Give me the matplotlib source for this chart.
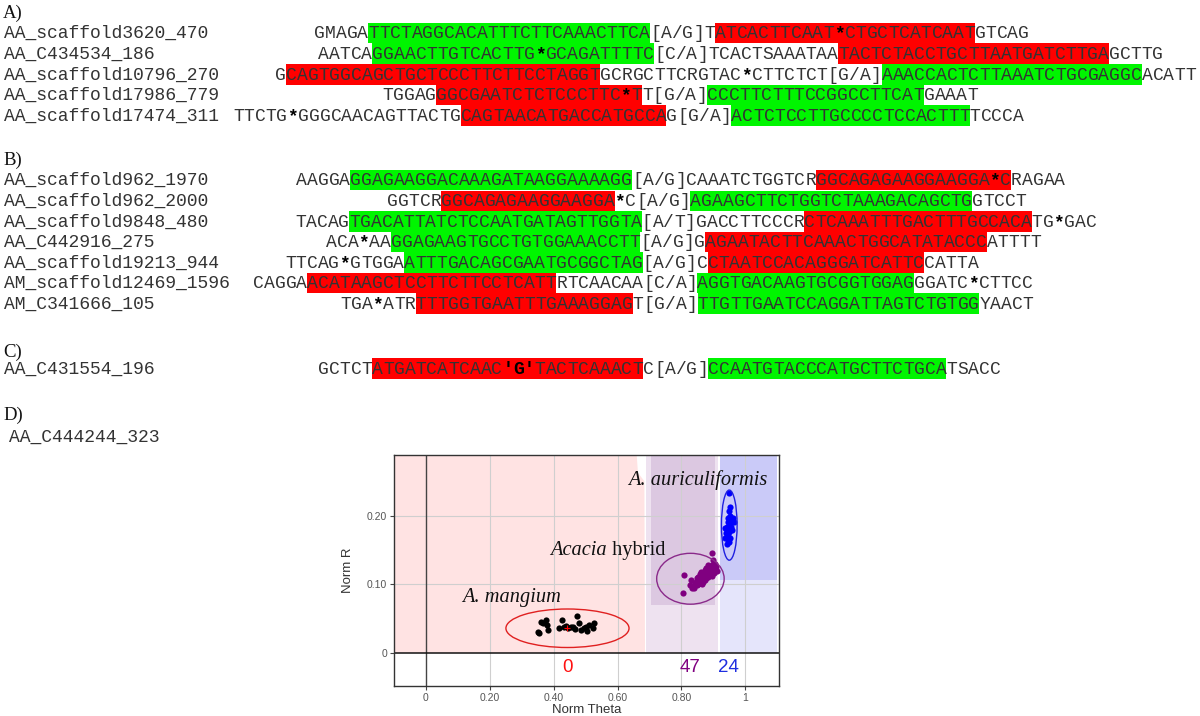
import matplotlib
matplotlib.use("Agg")
import matplotlib.pyplot as plt
from matplotlib.patches import Rectangle, Ellipse, Polygon

# ------------------------------------------------------------------ data
panel_labels = ["A)", "B)", "C)", "D)"]

names_A = ["AA_scaffold3620_470", "AA_C434534_186", "AA_scaffold10796_270",
           "AA_scaffold17986_779", "AA_scaffold17474_311"]
seqs_A = [
    [("GMAGA", "n"), ("TTCTAGGCACATTTCTTCAAACTTCA", "g"), ("[A/G]T", "n"),
     ("ATCACTTCAAT*CTGCTCATCAAT", "r"), ("GTCAG", "n")],
    [("AATCA", "n"), ("GGAACTTGTCACTTG*GCAGATTTTC", "g"), ("[C/A]TCACTSAAATAA", "n"),
     ("TACTCTACCTGCTTAATGATCTTGA", "r"), ("GCTTG", "n")],
    [("G", "n"), ("CAGTGGCAGCTGCTCCCTTCTTCCTAGGT", "r"), ("GCRGCTTCRGTAC*CTTCTCT[G/A]", "n"),
     ("AAACCACTCTTAAATCTGCGAGGC", "g"), ("ACATT", "n")],
    [("TGGAG", "n"), ("GGCGAATCTCTCCCTTC*T", "r"), ("T[G/A]", "n"),
     ("CCCTTCTTTCCGGCCTTCAT", "g"), ("GAAAT", "n")],
    [("TTCTG*GGGCAACAGTTACTG", "n"), ("CAGTAACATGACCATGCCA", "r"), ("G[G/A]", "n"),
     ("ACTCTCCTTGCCCCTCCACTTT", "g"), ("TCCCA", "n")],
]

names_B = ["AA_scaffold962_1970", "AA_scaffold962_2000", "AA_scaffold9848_480",
           "AA_C442916_275", "AA_scaffold19213_944", "AM_scaffold12469_1596",
           "AM_C341666_105"]
seqs_B = [
    [("AAGGA", "n"), ("GGAGAAGGACAAAGATAAGGAAAAGG", "g"), ("[A/G]CAAATCTGGTCR", "n"),
     ("GGCAGAGAAGGAAGGA*C", "r"), ("RAGAA", "n")],
    [("GGTCR", "n"), ("GGCAGAGAAGGAAGGA", "r"), ("*C[A/G]", "n"),
     ("AGAAGCTTCTGGTCTAAAGACAGCTG", "g"), ("GTCCT", "n")],
    [("TACAG", "n"), ("TGACATTATCTCCAATGATAGTTGGTA", "g"), ("[A/T]GACCTTCCCR", "n"),
     ("CTCAAATTTGACTTTGCCACA", "r"), ("TG*GAC", "n")],
    [("ACA*AA", "n"), ("GGAGAAGTGCCTGTGGAAACCTT", "g"), ("[A/G]G", "n"),
     ("AGAATACTTCAAACTGGCATATACCC", "r"), ("ATTTT", "n")],
    [("TTCAG*GTGGA", "n"), ("ATTTGACAGCGAATGCGGCTAG", "g"), ("[A/G]C", "n"),
     ("CTAATCCACAGGGATCATTC", "r"), ("CATTA", "n")],
    [("CAGGA", "n"), ("ACATAAGCTCCTTCTTCCTCATT", "r"), ("RTCAACAA[C/A]", "n"),
     ("AGGTGACAAGTGCGGTGGAG", "g"), ("GGATC*CTTCC", "n")],
    [("TGA*ATR", "n"), ("TTTGGTGAATTTGAAAGGAG", "r"), ("T[G/A]", "n"),
     ("TTGTTGAATCCAGGATTAGTCTGTGG", "g"), ("YAACT", "n")],
]

names_C = ["AA_C431554_196"]
seqs_C = [
    [("GCTCT", "n"), ("ATGATCATCAAC'G'TACTCAAACT", "r"), ("C[A/G]", "n"),
     ("CCAATGTACCCATGCTTCTGCA", "g"), ("TSACC", "n")],
]

name_D = "AA_C444244_323"

# genotyping cluster plot (Norm Theta, Norm R)
mangium_theta = [0.352, 0.362, 0.376, 0.378, 0.383, 0.356, 0.418, 0.425, 0.432, 0.446,
                 0.453, 0.461, 0.474, 0.480, 0.487, 0.495, 0.502, 0.511, 0.522, 0.526,
                 0.368, 0.440, 0.468, 0.505]
mangium_r = [0.031, 0.045, 0.048, 0.041, 0.034, 0.029, 0.036, 0.048, 0.038, 0.036,
             0.038, 0.038, 0.054, 0.043, 0.033, 0.036, 0.038, 0.041, 0.037, 0.043,
             0.043, 0.039, 0.035, 0.032]

hybrid_theta = [0.807, 0.804, 0.826, 0.833, 0.840, 0.831, 0.845, 0.852, 0.857, 0.862,
                0.868, 0.873, 0.878, 0.883, 0.889, 0.894, 0.894, 0.899, 0.904, 0.911,
                0.909, 0.889, 0.868, 0.852, 0.862, 0.883, 0.899, 0.847, 0.873, 0.857,
                0.878, 0.842, 0.906, 0.853, 0.866, 0.876, 0.886, 0.893, 0.880, 0.870,
                0.858, 0.849, 0.838, 0.896, 0.902, 0.864, 0.875]
hybrid_r = [0.113, 0.088, 0.099, 0.095, 0.095, 0.106, 0.104, 0.111, 0.102, 0.108,
            0.113, 0.106, 0.116, 0.111, 0.121, 0.128, 0.145, 0.135, 0.123, 0.120,
            0.125, 0.113, 0.104, 0.101, 0.118, 0.128, 0.118, 0.109, 0.121, 0.115,
            0.123, 0.102, 0.130, 0.106, 0.110, 0.109, 0.117, 0.121, 0.119, 0.116,
            0.109, 0.099, 0.098, 0.112, 0.117, 0.101, 0.113]

auric_theta = [0.949, 0.951, 0.948, 0.953, 0.961, 0.956, 0.946, 0.951, 0.943, 0.941,
               0.949, 0.939, 0.946, 0.935, 0.944, 0.949, 0.941, 0.956, 0.964, 0.936,
               0.953, 0.959, 0.944, 0.952]
auric_r = [0.233, 0.212, 0.207, 0.200, 0.196, 0.193, 0.191, 0.187, 0.184, 0.179,
           0.176, 0.174, 0.170, 0.167, 0.164, 0.162, 0.159, 0.184, 0.191, 0.182,
           0.168, 0.179, 0.197, 0.181]

# cluster ellipses: (centre theta, centre R, width, height)
ell_mangium = (0.4435, 0.036, 0.385, 0.056)
ell_hybrid = (0.828, 0.108, 0.211, 0.074)
ell_auric = (0.9495, 0.186, 0.049, 0.102)

count_labels = ["0", "47", "24"]
count_theta = [0.444, 0.826, 0.946]
count_r = [-0.021, -0.021, -0.021]

x_ticks = [0, 0.2, 0.4, 0.6, 0.8, 1.0]
x_ticklabels = ["0", "0.20", "0.40", "0.60", "0.80", "1"]
y_ticks = [0, 0.1, 0.2]
y_ticklabels = ["0", "0.10", "0.20"]

# ------------------------------------------------------------------ layout
W, H = 1200, 716
fig = plt.figure(figsize=(12, 7.16), dpi=100)
tax = fig.add_axes([0, 0, 1, 1])
tax.set_xlim(0, W)
tax.set_ylim(H, 0)
tax.axis("off")

MONO = "Liberation Mono"
SERIF = "Liberation Serif"
SANS = "Liberation Sans"
FS = 13
CW = FS * 100 / 72 * 0.6
BOX_H = 20.5
TXT = "#333333"
HL = {"g": "#00F500", "r": "#FF0000"}
BASE_OFF = 5.3

xA = [314, 318, 275, 382, 233]
yA = [33, 53.5, 74.5, 95, 115.5]
xB = [296, 387, 295, 326, 285, 253, 340]
yB = [180, 201, 221.5, 242, 262.5, 283, 303.5]
xC = [318]
yC = [368.5]


def draw_row(name, segs, x0, yc):
    tax.text(4, yc + BASE_OFF, name, family=MONO, size=FS, color=TXT,
             ha="left", va="baseline")
    i = 0
    for txt, code in segs:
        if code in HL:
            tax.add_patch(Rectangle((x0 + i * CW, yc - BOX_H / 2), len(txt) * CW, BOX_H,
                                    facecolor=HL[code], edgecolor="none", zorder=1))
        i += len(txt)
    full = "".join(t for t, _ in segs)
    bold = [ch == "*" for ch in full]
    k = full.find("'G'")
    if k >= 0:
        bold[k:k + 3] = [True, True, True]
    for j, ch in enumerate(full):
        tax.text(x0 + (j + 0.5) * CW, yc + BASE_OFF, ch, family=MONO, size=FS,
                 color="#000000" if bold[j] else TXT,
                 weight="bold" if bold[j] else "normal",
                 ha="center", va="baseline", zorder=2)


label_y = [13, 160, 352, 415]
for lab, ly in zip(panel_labels, label_y):
    tax.text(3, ly, lab, family=SERIF, size=13.5, color="#111111", ha="left", va="center")

for n, s, x0, yc in zip(names_A, seqs_A, xA, yA):
    draw_row(n, s, x0, yc)
for n, s, x0, yc in zip(names_B, seqs_B, xB, yB):
    draw_row(n, s, x0, yc)
for n, s, x0, yc in zip(names_C, seqs_C, xC, yC):
    draw_row(n, s, x0, yc)
tax.text(9, 437 + BASE_OFF, name_D, family=MONO, size=FS, color=TXT, ha="left", va="baseline")

# ------------------------------------------------------------------ cluster plot
ax = fig.add_axes([394 / W, (H - 686) / H, 385 / W, 231 / H])
XMIN, XMAX, YMIN, YMAX = -0.099, 1.105, -0.048, 0.288
ax.set_xlim(XMIN, XMAX)
ax.set_ylim(YMIN, YMAX)

# call regions
ax.add_patch(Polygon([(XMIN, 0), (XMIN, YMAX), (0.660, YMAX), (0.664, 0.262),
                      (0.684, 0.25), (0.686, 0)], closed=True,
                     facecolor="#FFE3E3", edgecolor="none", zorder=0))
ax.add_patch(Rectangle((0.690, 0), 0.225, YMAX, facecolor="#EEE2F0", edgecolor="none", zorder=0))
ax.add_patch(Rectangle((0.705, 0.070), 0.200, YMAX - 0.070, facecolor="#DCC8E1",
                       edgecolor="none", zorder=0))
ax.add_patch(Rectangle((0.920, 0), 0.179, YMAX, facecolor="#E5E5FB", edgecolor="none", zorder=0))
ax.add_patch(Rectangle((0.920, 0.106), 0.179, YMAX - 0.106, facecolor="#CACAF8",
                       edgecolor="none", zorder=0))

for xt in x_ticks[1:]:
    ax.axvline(xt, color="#CFCFCF", lw=0.8, zorder=1)
for yt in y_ticks[1:]:
    ax.axhline(yt, color="#CFCFCF", lw=0.8, zorder=1)
ax.axvline(0, color="#444444", lw=1.0, zorder=1.5)
ax.axhline(0, color="#111111", lw=1.1, zorder=1.5)

ax.scatter(mangium_theta, mangium_r, s=20, color="black", zorder=3, linewidths=0)
ax.scatter(hybrid_theta, hybrid_r, s=20, color="#800080", zorder=3, linewidths=0)
ax.scatter(auric_theta, auric_r, s=20, color="#0000FF", zorder=3, linewidths=0)

for (cx, cy, w, h), col in [(ell_mangium, "#E02020"), (ell_hybrid, "#8A2A8A"),
                             (ell_auric, "#2020E0")]:
    ax.add_patch(Ellipse((cx, cy), w, h, facecolor="none", edgecolor=col, lw=1.0, zorder=4))
ax.plot([ell_mangium[0]], [ell_mangium[1]], marker="+", color="red", ms=5, mew=0.8, zorder=5)

for lab, cx, cy, col in zip(count_labels, count_theta, count_r,
                            ["#FF1010", "#800080", "#1E2EE0"]):
    ax.text(cx, cy, lab, family=SANS, size=13.5, color=col, ha="center", va="center", zorder=5)

ax.text(0.633, 0.244, "A. auriculiformis", family=SERIF, style="italic", size=14.7,
        color="#111111", ha="left", va="baseline", zorder=5)
t1 = ax.text(0.389, 0.142, "Acacia", family=SERIF, style="italic", size=14.7,
             color="#111111", ha="left", va="baseline", zorder=5)
ax.annotate(" hybrid", xy=(1, 0), xycoords=t1, family=SERIF, size=14.7,
            color="#111111", ha="left", va="bottom", zorder=5)
ax.text(0.115, 0.0746, "A. mangium", family=SERIF, style="italic", size=14.7,
        color="#111111", ha="left", va="baseline", zorder=5)

ax.set_xticks(x_ticks)
ax.set_xticklabels(x_ticklabels)
ax.set_yticks(y_ticks)
ax.set_yticklabels(y_ticklabels)
ax.tick_params(length=3, width=0.8, color="#444444", labelsize=7.5, labelcolor="#555555", pad=2)
for lbl in ax.get_xticklabels() + ax.get_yticklabels():
    lbl.set_family(SANS)
for sp in ax.spines.values():
    sp.set_color("#333333")
    sp.set_linewidth(1.0)
ax.set_xlabel("Norm Theta", family=SANS, size=9.5, color="#333333", labelpad=1)
ax.set_ylabel("Norm R", family=SANS, size=9.5, color="#333333", labelpad=9)

fig.savefig("out.png", dpi=100)
